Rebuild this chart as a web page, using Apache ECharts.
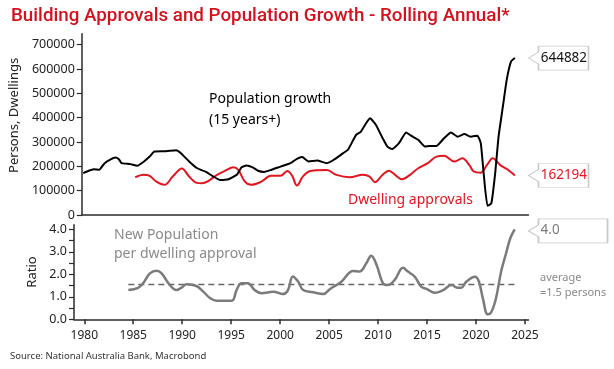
<!DOCTYPE html>
<html><head><meta charset="utf-8">
<script src="https://cdn.jsdelivr.net/npm/echarts@6/dist/echarts.min.js"></script>
<style>html,body{margin:0;padding:0;background:#fff}#c{width:614px;height:369px}</style>
</head><body><div id="c"></div>
<script>
// ---- data ----
var popYears = [1979.1,1979.6,1980.2,1980.75,1981.3,1981.9,1982.45,1982.8,1983.1,1984.0,1984.7,1985.35,1986.0,1986.5,1987.7,1988.75,1989.25,1990.1,1990.95,1991.8,1992.5,1993.3,1994.2,1995.05,1995.55,1996.05,1996.7,1997.25,1997.9,1998.6,1999.6,2000.65,2001.3,2001.85,2002.5,2003.4,2004.4,2005.1,2006.1,2006.6,2007.45,2007.95,2008.5,2008.9,2009.5,2010.2,2010.7,2011.2,2011.9,2012.65,2013.2,2013.9,2014.6,2015.1,2015.8,2016.6,2017.3,2018.0,2018.7,2019.35,2020.05,2020.4,2020.7,2021.1,2021.5,2021.9,2022.25,2022.7,2023.1,2023.55,2023.95];
var popValues = [172000,181000,188000,186000,212000,228000,236000,229000,213000,209000,202000,218000,240000,261000,262000,266000,254000,220000,192000,178000,161000,144000,147000,165000,196000,203000,196000,182000,177000,185000,199000,213000,231000,238000,220000,224000,213000,226000,254000,268000,329000,343000,378000,398000,371000,316000,281000,271000,295000,339000,325000,309000,281000,284000,284000,316000,339000,322000,333000,322000,326000,295000,172000,38000,48000,172000,322000,446000,556000,631000,644882];

var dwYears = [1984.5,1985.35,1986.0,1986.7,1987.55,1988.4,1989.35,1990.1,1990.8,1991.45,1992.15,1993.0,1993.85,1994.7,1995.2,1995.9,1996.55,1997.6,1998.6,1999.6,2000.3,2000.8,2001.3,2001.95,2002.7,2004.4,2005.4,2006.8,2008.15,2008.85,2009.4,2010.2,2010.85,2011.5,2012.2,2013.05,2013.9,2014.9,2015.8,2016.6,2017.65,2018.5,2019.2,2019.7,2020.4,2021.05,2021.65,2022.4,2023.25,2023.95];
var dwValues = [155000,165000,161000,137000,124000,158000,191000,158000,133000,130000,141000,165000,182000,196000,185000,137000,124000,137000,161000,161000,181000,162000,121000,160000,181000,185000,165000,155000,165000,158000,135000,165000,182000,165000,147000,165000,192000,213000,240000,243000,220000,233000,206000,178000,174000,206000,233000,206000,185000,162194];

var ratioYears = [1984.5,1985.5,1986.0,1986.7,1987.4,1987.9,1988.6,1989.4,1989.9,1990.45,1991.45,1992.15,1992.8,1993.5,1995.05,1995.55,1996.05,1996.7,1997.4,1998.1,1999.3,2000.3,2000.8,2001.3,2001.85,2002.35,2003.35,2004.4,2005.1,2006.25,2007.45,2008.1,2008.8,2009.3,2009.85,2010.5,2011.0,2011.7,2012.55,2013.05,2013.75,2014.4,2014.95,2015.8,2016.65,2017.5,2018.15,2018.5,2019.0,2019.9,2020.3,2020.7,2021.2,2021.55,2022.0,2022.6,2023.1,2023.5,2023.95];
var ratioValues = [1.30,1.40,1.60,2.04,2.16,2.04,1.60,1.30,1.40,1.56,1.48,1.23,0.96,0.83,0.83,1.30,1.60,1.60,1.30,1.16,1.23,1.12,1.30,1.90,1.67,1.30,1.20,1.12,1.35,1.67,2.15,2.12,2.49,2.83,2.41,1.60,1.52,1.75,2.29,2.12,1.89,1.45,1.35,1.18,1.30,1.52,1.40,1.40,1.67,1.89,1.67,0.93,0.22,0.31,0.86,2.19,2.98,3.60,4.00];

var avgYears = [1984.5, 2024.0];
var avgValue = 1.55;

var xTickLabels = [1980,1985,1990,1995,2000,2005,2010,2015,2020,2025];
var yTopTicks = [0,100000,200000,300000,400000,500000,600000,700000];
var yBotTicks = [0,1,2,3,4];
var yBotMinorTicks = [0,0.5,1,1.5,2,2.5,3,3.5,4];

var lastPop = "644882", lastDw = "162194", lastRatio = "4.0";

// ---- helpers ----
function pairs(xs, ys){ return xs.map(function(x,i){ return [x, ys[i]]; }); }
var FONT = 'Noto Sans';
var XMIN = 1978.95, XMAX = 2025.36;
var RED = '#e3151f', GREY = '#7b7b7b', AX = '#2b2b2b';

function endBox(yv, text, color, w){
  return {
    symbol: 'path://M0,12L10,6L10,0L' + w + ',0L' + w + ',24L10,24L10,18Z',
    symbolSize: [w, 24],
    symbolOffset: [w/2, 0],
    symbolKeepAspect: false,
    silent: true,
    itemStyle: {color: '#fff', borderColor: '#c9c9c9', borderWidth: 1},
    label: {show: true, position: [13, 12], align: 'left', verticalAlign: 'middle',
            formatter: text, color: color, fontSize: 13.5, fontFamily: FONT},
    data: [{coord: [XMAX, yv]}]
  };
}

var chart = echarts.init(document.getElementById('c'), null, {renderer: 'canvas'});
chart.setOption({
  animation: false,
  backgroundColor: '#fff',
  title: {text: 'Building Approvals and Population Growth - Rolling Annual*', left: 6, top: 2,
          textStyle: {color: '#d3121d', fontSize: 18.8, fontWeight: 500, fontFamily: 'Roboto'}},
  grid: [
    {left: 74, right: 85.5, top: 33.7, height: 181.3},
    {left: 74, right: 85.5, top: 224.8, height: 94.5}
  ],
  xAxis: [
    {type: 'value', gridIndex: 0, min: XMIN, max: XMAX, splitLine: {show: false},
     axisLine: {show: true, lineStyle: {color: AX, width: 1.5}}, axisTick: {show: false}, axisLabel: {show: false}},
    {type: 'value', gridIndex: 1, min: XMIN, max: XMAX, splitLine: {show: false},
     axisLine: {show: true, lineStyle: {color: AX, width: 1.5}},
     axisTick: {show: true, length: 5, customValues: xTickLabels, lineStyle: {color: AX, width: 1.5}},
     axisLabel: {show: true, customValues: xTickLabels, margin: 10, color: '#222', fontSize: 12, fontFamily: FONT,
                 formatter: function(v){ return String(v); }}}
  ],
  yAxis: [
    {type: 'value', gridIndex: 0, min: 0, max: 745000, splitLine: {show: false},
     axisLine: {show: true, lineStyle: {color: AX, width: 1.5}},
     axisTick: {show: true, length: 5, customValues: yTopTicks, lineStyle: {color: AX, width: 1.2}},
     axisLabel: {customValues: yTopTicks, margin: 7, color: '#222', fontSize: 12.5, fontFamily: FONT,
                 formatter: function(v){ return String(v); }},
     name: 'Persons, Dwellings', nameLocation: 'middle', nameGap: 54, nameRotate: 90,
     nameTextStyle: {color: '#222', fontSize: 13, fontFamily: FONT, padding: [0, 0, 0, 18]}},
    {type: 'value', gridIndex: 1, min: 0, max: 4.2, splitLine: {show: false},
     axisLine: {show: true, lineStyle: {color: AX, width: 1.5}},
     axisTick: {show: true, length: 5, customValues: yBotMinorTicks, lineStyle: {color: AX, width: 1.2}},
     axisLabel: {customValues: yBotTicks, margin: 7, color: '#222', fontSize: 12.5, fontFamily: FONT,
                 formatter: function(v){ return v.toFixed(1); }},
     name: 'Ratio', nameLocation: 'middle', nameGap: 30, nameRotate: 90,
     nameTextStyle: {color: '#222', fontSize: 13, fontFamily: FONT}}
  ],
  series: [
    {type: 'line', name: 'Population growth', xAxisIndex: 0, yAxisIndex: 0, data: pairs(popYears, popValues),
     showSymbol: false, smooth: 0.15, lineStyle: {color: '#000', width: 2}, z: 3,
     markPoint: endBox(644882, lastPop, '#111', 60)},
    {type: 'line', name: 'Dwelling approvals', xAxisIndex: 0, yAxisIndex: 0, data: pairs(dwYears, dwValues),
     showSymbol: false, smooth: 0.35, lineStyle: {color: RED, width: 2}, z: 2,
     markPoint: endBox(162194, lastDw, RED, 60)},
    {type: 'line', name: 'Average', xAxisIndex: 1, yAxisIndex: 1, data: avgYears.map(function(x){ return [x, avgValue]; }),
     showSymbol: false, lineStyle: {color: '#666', width: 1.6, type: [6, 4]}, z: 1},
    {type: 'line', name: 'Ratio', xAxisIndex: 1, yAxisIndex: 1, data: pairs(ratioYears, ratioValues),
     showSymbol: false, smooth: 0.4, lineStyle: {color: GREY, width: 2.5}, z: 2,
     markPoint: endBox(3.93, lastRatio, GREY, 79)}
  ],
  graphic: [
    {type: 'text', left: 209, top: 89, style: {text: 'Population growth\n(15 years+)', fill: '#000', font: '14px "Noto Sans"', lineHeight: 21}},
    {type: 'text', left: 348, top: 193, style: {text: 'Dwelling approvals', fill: RED, font: '14px "Noto Sans"'}},
    {type: 'text', left: 114, top: 225, style: {text: 'New Population\nper dwelling approval', fill: '#8a8a8a', font: '14px "Noto Sans"', lineHeight: 19.5}},
    {type: 'text', left: 540, top: 270, style: {text: 'average\n=1.5 persons', fill: '#8a8a8a', font: '11px "Noto Sans"', lineHeight: 15}},
    {type: 'text', left: 10, top: 351, style: {text: 'Source: National Australia Bank, Macrobond', fill: '#333', font: '9.5px "Noto Sans"'}}
  ]
});
</script></body></html>
